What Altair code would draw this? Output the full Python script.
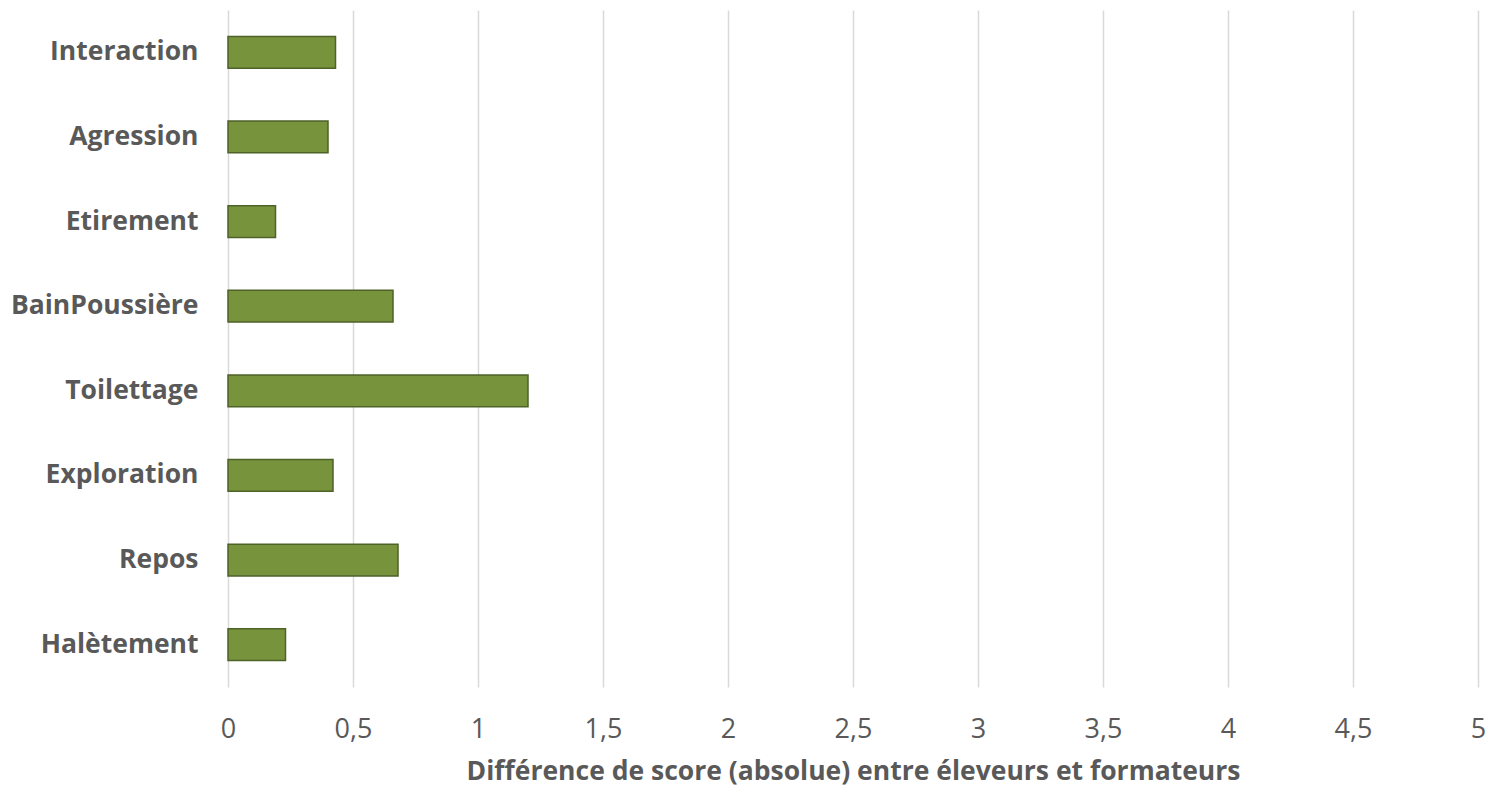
import altair as alt
import pandas as pd

categories = ["Interaction", "Agression", "Etirement", "BainPoussière",
              "Toilettage", "Exploration", "Repos", "Halètement"]
values = [0.43, 0.40, 0.19, 0.66, 1.20, 0.42, 0.68, 0.23]
x_ticks = [0, 0.5, 1, 1.5, 2, 2.5, 3, 3.5, 4, 4.5, 5]

df = pd.DataFrame({"cat": categories, "val": values})

FONT = "Open Sans"
TXT = "#595959"

chart = alt.Chart(df).mark_bar(
    color="#77933C", stroke="#4F6228", strokeWidth=1.5
).encode(
    x=alt.X("val:Q",
            scale=alt.Scale(domain=[0, 5], nice=False),
            axis=alt.Axis(values=x_ticks,
                          title="Différence de score (absolue) entre éleveurs et formateurs",
                          labelExpr="replace(format(datum.value, '~g'), '.', ',')",
                          grid=True, gridColor="#D9D9D9", gridWidth=1.5,
                          domain=False, ticks=False, labelFlush=False,
                          labelFont=FONT, labelFontSize=27, labelColor=TXT,
                          labelPadding=29,
                          titleFont=FONT, titleFontSize=26.5, titleFontWeight="bold",
                          titleColor=TXT, titlePadding=16, titleLimit=1200)),
    y=alt.Y("cat:N", sort=categories,
            scale=alt.Scale(paddingInner=0.625, paddingOuter=0.3125),
            axis=alt.Axis(title=None, domain=False, ticks=False, grid=False,
                          labelFont=FONT, labelFontSize=26.5, labelFontWeight="bold",
                          labelColor=TXT, labelPadding=30, labelLimit=400)),
).properties(
    width=1250, height=677,
    autosize=alt.AutoSizeParams(type="none"),
    padding={"left": 228, "top": 10, "right": 15, "bottom": 105},
).configure_view(stroke=None)

chart.save("out.html", embed_options={"renderer": "svg", "actions": False})
